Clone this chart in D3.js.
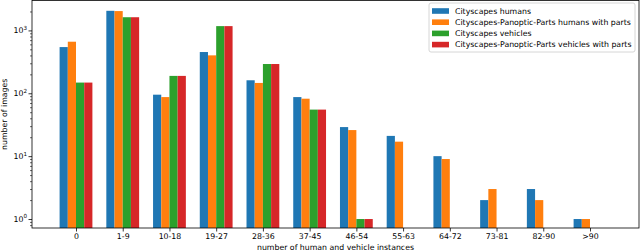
<!DOCTYPE html>
<html>
<head>
<meta charset="utf-8">
<script src="https://cdn.jsdelivr.net/npm/d3@7"></script>
<style>
  body { margin: 0; background: #fff; }
  text { font-family: "DejaVu Sans", sans-serif; }
</style>
</head>
<body>
<svg id="chart" width="640" height="252"></svg>
<script>
// bins on the x axis
const categories = ['0', '1-9', '10-18', '19-27', '28-36', '37-45', '46-54', '55-63', '64-72', '73-81', '82-90', '>90'];
// image counts per bin, 0 means no bar
const humans = [543, 2050, 95, 453, 161, 87, 29, 21, 10, 2, 3, 1];
const humansParts = [661, 2030, 87, 401, 146, 82, 26, 17, 9, 3, 2, 1];
const vehicles = [148, 1620, 189, 1170, 292, 55, 1, 0, 0, 0, 0, 0];
const vehiclesParts = [148, 1620, 189, 1170, 292, 55, 1, 0, 0, 0, 0, 0];
const seriesNames = ['Cityscapes humans', 'Cityscapes-Panoptic-Parts humans with parts', 'Cityscapes vehicles', 'Cityscapes-Panoptic-Parts vehicles with parts'];
const colors = ['#1f77b4', '#ff7f0e', '#2ca02c', '#d62728'];
const yTicks = [1, 10, 100, 1000];

const series = [humans, humansParts, vehicles, vehiclesParts];
const fs = 7.8;

const svg = d3.select('#chart');
const margin = { left: 32, right: 1, top: 0.5, bottom: 24 };
const width = 640, height = 252;
const plotW = width - margin.left - margin.right;
const plotH = height - margin.top - margin.bottom;

const g = svg.append('g').attr('transform', `translate(${margin.left},${margin.top})`);

// band center for each category
const x = d3.scalePoint().domain(categories).range([44, 558]);
const y = d3.scaleLog().domain([0.72, 2990]).range([plotH, 0]);
const barW = 8.2;

series.forEach((vals, s) => {
  g.append('g')
    .selectAll('rect')
    .data(vals.map((v, i) => ({ v, c: categories[i] })).filter(d => d.v > 0))
    .join('rect')
    .attr('x', d => x(d.c) + (s - 2) * barW)
    .attr('width', barW)
    .attr('y', d => y(d.v))
    .attr('height', d => plotH - y(d.v))
    .attr('fill', colors[s]);
});

// minor ticks for the log axis
const minor = [];
for (let e = -1; e <= 3; e += 1) {
  for (let m = 2; m <= 9; m += 1) {
    const v = m * 10 ** e;
    if (v > 0.72 && v < 2990) minor.push(v);
  }
}

const yAxis = g.append('g')
  .call(d3.axisLeft(y).tickValues(yTicks).tickSize(3.5).tickFormat(''));
yAxis.select('.domain').remove();
yAxis.selectAll('line').attr('stroke', '#000').attr('stroke-width', 0.8);

g.append('g')
  .call(d3.axisLeft(y).tickValues(minor).tickSize(2).tickFormat(''))
  .call(a => a.select('.domain').remove())
  .selectAll('line').attr('stroke', '#000').attr('stroke-width', 0.6);

yTicks.forEach((v) => {
  const t = g.append('text')
    .attr('x', -5)
    .attr('y', y(v) + 3)
    .attr('text-anchor', 'end')
    .attr('font-size', fs)
    .attr('fill', '#000');
  t.append('tspan').text('10');
  t.append('tspan').attr('dy', -3.6).attr('font-size', 5.6).text(Math.round(Math.log10(v)));
});

const xAxis = g.append('g')
  .attr('transform', `translate(0,${plotH})`)
  .call(d3.axisBottom(x).tickSize(3.5).tickPadding(2));
xAxis.select('.domain').remove();
xAxis.selectAll('line').attr('stroke', '#000').attr('stroke-width', 0.8);
xAxis.selectAll('text')
  .attr('font-size', fs)
  .attr('font-family', '"DejaVu Sans", sans-serif')
  .attr('fill', '#000');

// frame
g.append('rect')
  .attr('width', plotW)
  .attr('height', plotH)
  .attr('fill', 'none')
  .attr('stroke', '#000')
  .attr('stroke-width', 0.8);

g.append('text')
  .attr('x', plotW / 2)
  .attr('y', plotH + 22)
  .attr('text-anchor', 'middle')
  .attr('font-size', fs)
  .text('number of human and vehicle instances');

svg.append('text')
  .attr('transform', `translate(7,${margin.top + plotH / 2}) rotate(-90)`)
  .attr('text-anchor', 'middle')
  .attr('font-size', fs)
  .text('number of images');

// legend
const lg = svg.append('g').attr('transform', 'translate(429,3)');
lg.append('rect')
  .attr('width', 206)
  .attr('height', 49)
  .attr('rx', 2)
  .attr('fill', '#fff')
  .attr('fill-opacity', 0.8)
  .attr('stroke', '#ccc')
  .attr('stroke-width', 0.8);

seriesNames.forEach((name, i) => {
  const row = lg.append('g').attr('transform', `translate(0,${8 + i * 11.2})`);
  row.append('rect')
    .attr('x', 3)
    .attr('y', -2.8)
    .attr('width', 17)
    .attr('height', 5.6)
    .attr('fill', colors[i]);
  row.append('text')
    .attr('x', 26)
    .attr('y', 2.8)
    .attr('font-size', fs)
    .text(name);
});
</script>
</body>
</html>
